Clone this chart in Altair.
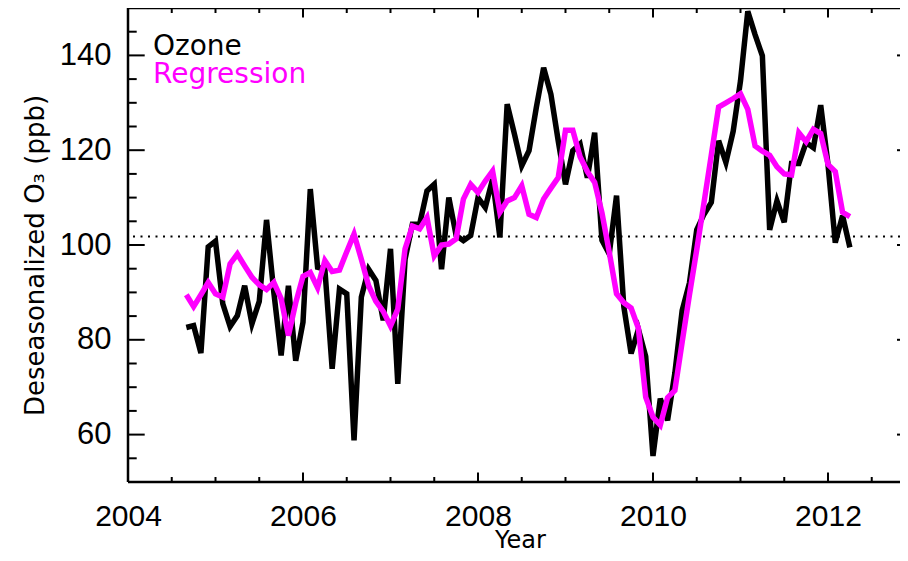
import altair as alt
import pandas as pd

# ---- data (monthly, Sep 2004 .. Apr 2012) ----
first_year = 2004
first_month = 9
ozone = [82.6, 83.0, 77.2, 99.6, 100.8, 87.6, 82.8, 85.1, 91.4, 83.4,
         88.1, 105.3, 90.0, 76.7, 91.4, 75.6, 83.7, 111.8, 95.3, 94.9,
         73.9, 90.7, 89.7, 58.8, 89.0, 94.9, 92.5, 84.1, 99.2, 70.7,
         97.0, 104.4, 104.4, 111.4, 112.8, 94.9, 110.0, 102.0, 100.9, 102.0,
         110.0, 107.9, 113.9, 101.6, 129.7, 123.4, 116.7, 119.9, 129.0, 137.4,
         131.8, 122.0, 112.8, 119.9, 121.3, 114.2, 123.7, 101.0, 98.1, 110.4,
         87.0, 77.1, 82.2, 76.5, 55.5, 67.6, 63.0, 73.0, 86.2, 92.0,
         103.2, 106.5, 109.0, 122.0, 117.4, 124.0, 134.6, 149.3, 144.4, 139.9,
         103.2, 109.3, 104.8, 117.2, 117.2, 121.6, 120.5, 129.5, 117.0, 100.5,
         106.2, 99.5]
regression = [89.5, 87.0, 89.5, 92.1, 89.7, 89.0, 96.0, 98.1, 95.6, 93.2,
              91.6, 90.6, 92.1, 88.7, 80.9, 87.8, 93.4, 94.2, 91.0, 96.7,
              94.4, 94.7, 98.6, 102.3, 97.0, 91.4, 88.1, 86.0, 82.9, 86.5,
              99.2, 104.0, 103.4, 105.8, 97.7, 100.0, 100.2, 101.3, 109.7, 112.8,
              111.1, 113.5, 115.6, 106.9, 109.3, 110.0, 112.5, 106.5, 105.8, 109.7,
              112.0, 114.2, 124.2, 124.2, 118.6, 115.5, 113.2, 106.8, 98.5, 89.7,
              87.8, 86.7, 82.4, 67.9, 63.7, 62.0, 67.8, 69.3, 79.5, 89.5,
              99.0, 109.0, 119.0, 129.1, 130.0, 130.9, 131.9, 128.6, 120.9, 119.8,
              118.9, 116.5, 115.0, 114.8, 123.7, 121.8, 124.4, 123.5, 117.0, 115.5,
              106.9, 106.0]
series_names = ["Ozone", "Regression"]
series_colors = ["#000000", "#ff00ff"]
ref_level = [101.8]

x_domain = [2004, 2012.823]   # the right edge of the original frame is cut off
y_domain = [50, 150]
x_label_values = [2004, 2006, 2008, 2010, 2012]
y_label_values = [60, 80, 100, 120, 140]
x_major_ticks = [2006, 2008, 2010, 2012]
x_minor_ticks = [2004.5, 2005, 2005.5, 2006.5, 2007, 2007.5, 2008.5, 2009, 2009.5,
                 2010.5, 2011, 2011.5, 2012.5]
y_major_ticks = [60, 80, 100, 120, 140]
y_minor_ticks = [55, 65, 70, 75, 85, 90, 95, 105, 110, 115, 125, 130, 135, 145]

# ---- table ----
n = len(ozone)
months = [(first_month - 1 + i) for i in range(n)]
years = [first_year + m / 12 for m in months]
df = pd.DataFrame({
    "year": years + years,
    "value": ozone + regression,
    "series": [series_names[0]] * n + [series_names[1]] * n,
})

W = 772
H = 474
xs = alt.Scale(domain=x_domain, nice=False, zero=False)
ys = alt.Scale(domain=y_domain, nice=False, zero=False)

LABEL_FONT = "Liberation Sans"
TITLE_FONT = "DejaVu Sans"

x_axis = alt.Axis(values=x_label_values, format="d", labelFont=LABEL_FONT, labelFontSize=30,
                  labelColor="black", labelPadding=19, labelFlush=False, labelOverlap=False,
                  ticks=False, tickSize=0, domain=False, grid=False,
                  title="Year", titleFont=TITLE_FONT, titleFontSize=24, titleFontWeight="normal",
                  titleColor="black", titleX=392, titleY=65, titleBaseline="alphabetic",
                  titleAlign="center")
y_axis = alt.Axis(values=y_label_values, format="d", labelFont=LABEL_FONT, labelFontSize=31,
                  labelColor="black", labelPadding=17, labelFlush=False, labelOverlap=False,
                  ticks=False, tickSize=0, domain=False, grid=False,
                  title="Deseasonalized O₃ (ppb)", titleFont=TITLE_FONT, titleFontSize=26,
                  titleFontWeight="normal", titleColor="black", titleAngle=270,
                  titleX=-85, titleY=247, titleBaseline="alphabetic", titleAlign="center")

ref = alt.Chart(pd.DataFrame({"value": ref_level})).mark_rule(
    color="black", strokeWidth=2, strokeDash=[2, 5.5]
).encode(y=alt.Y("value:Q", scale=ys, axis=y_axis))

lines = alt.Chart(df).mark_line(strokeWidth=5.5, strokeJoin="miter").encode(
    x=alt.X("year:Q", scale=xs, axis=x_axis),
    y=alt.Y("value:Q", scale=ys, axis=y_axis),
    color=alt.Color("series:N", scale=alt.Scale(domain=series_names, range=series_colors),
                    legend=None),
)

def ytick_layer(vals, x0, x1):
    return alt.Chart(pd.DataFrame({"value": vals})).mark_rule(color="black", strokeWidth=2).encode(
        y=alt.Y("value:Q", scale=ys, axis=y_axis), x=alt.value(x0), x2=alt.value(x1))

def xtick_layer(vals, y0, y1):
    return alt.Chart(pd.DataFrame({"year": vals})).mark_rule(color="black", strokeWidth=2).encode(
        x=alt.X("year:Q", scale=xs, axis=x_axis), y=alt.value(y0), y2=alt.value(y1))

ticks = [
    ytick_layer(y_major_ticks, 0, 16.7), ytick_layer(y_minor_ticks, 0, 8.7),
    ytick_layer(y_major_ticks, W - 3, W),
    xtick_layer(x_major_ticks, H - 9.5, H), xtick_layer(x_minor_ticks, H - 5, H),
    xtick_layer(x_major_ticks, 0, 9.5), xtick_layer(x_minor_ticks, 0, 5),
]

frame_df = pd.DataFrame({"edge": ["frame"]})
frame = [
    alt.Chart(frame_df).mark_rule(color="black", strokeWidth=2.5).encode(
        x=alt.value(0), y=alt.value(0), y2=alt.value(H)),
    alt.Chart(frame_df).mark_rule(color="black", strokeWidth=2.5).encode(
        x=alt.value(0), x2=alt.value(W), y=alt.value(0)),
    alt.Chart(frame_df).mark_rule(color="black", strokeWidth=2.5).encode(
        x=alt.value(0), x2=alt.value(W), y=alt.value(H)),
]

legend_layers = []
legend_y = [47, 74.7]
for name, col, yy in zip(series_names, series_colors, legend_y):
    legend_layers.append(
        alt.Chart(pd.DataFrame({"label": [name]})).mark_text(
            align="left", baseline="alphabetic", font=TITLE_FONT, fontSize=28, color=col
        ).encode(text="label:N", x=alt.value(25), y=alt.value(yy))
    )

chart = alt.layer(ref, lines, *ticks, *frame, *legend_layers).properties(
    width=W, height=H,
    autosize=alt.AutoSizeParams(type="none"),
    padding={"left": 120, "top": 0, "right": 0, "bottom": 71},
    background="white",
).configure_view(stroke=None)

chart.save("out.html", embed_options={"renderer": "svg", "actions": False})
